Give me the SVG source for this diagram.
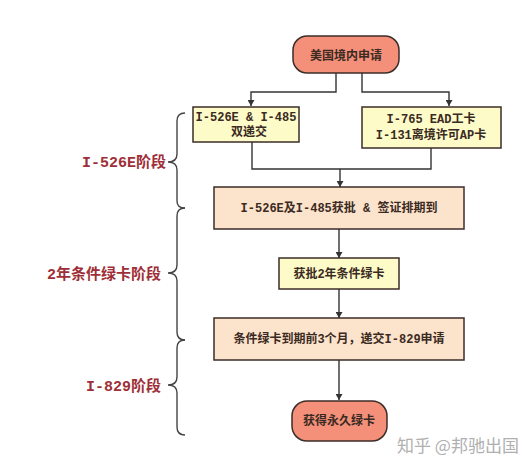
<svg xmlns="http://www.w3.org/2000/svg" width="526" height="467" viewBox="0 0 526 467">
<defs>
<style>
.node{stroke:#3b2d28;stroke-width:1.5}
.term{fill:#F4907A}
.yel{fill:#FDFBC8}
.peach{fill:#FCE3CB}
.t{font-family:"Liberation Mono","Noto Sans CJK SC",monospace;font-size:12px;fill:#3a2a22;text-anchor:middle;font-weight:bold}
.lbl{font-family:"Liberation Mono","Noto Sans CJK SC",monospace;font-size:15px;fill:#9e2f38;text-anchor:end;font-weight:bold}
.c{fill:none;stroke:#333;stroke-width:1.4}
.brace{fill:none;stroke:#444;stroke-width:1.4}
</style>
<marker id="ah" viewBox="0 0 10 10" refX="10" refY="5" markerWidth="6" markerHeight="7" markerUnits="userSpaceOnUse" orient="auto" preserveAspectRatio="none">
<path d="M0,0 L10,5 L0,10 Z" fill="#333"/>
</marker>
</defs>
<rect width="526" height="467" fill="#fff"/>
<g id="connectors">
<path class="c" d="M336,73 V92 H251 V106" marker-end="url(#ah)"/>
<path class="c" d="M362,73 V92 H449 V106" marker-end="url(#ah)"/>
<path class="c" d="M252,142 V169 H431 V148"/>
<path class="c" d="M340,169 V187" marker-end="url(#ah)"/>
<path class="c" d="M339,229 V258" marker-end="url(#ah)"/>
<path class="c" d="M339,289 V318" marker-end="url(#ah)"/>
<path class="c" d="M339,360 V400" marker-end="url(#ah)"/>
</g>
<g id="n1"><rect class="node term" x="293" y="36" width="106" height="37" rx="14"/><text class="t" x="346" y="60">美国境内申请</text></g>
<g id="n2"><rect class="node yel" x="193" y="107" width="106" height="35"/><text class="t" x="246" y="121">I-526E &amp; I-485</text><text class="t" x="249" y="136">双递交</text></g>
<g id="n3"><rect class="node yel" x="362" y="107" width="139" height="41"/><text class="t" x="431" y="123">I-765 EAD工卡</text><text class="t" x="431" y="139">I-131离境许可AP卡</text></g>
<g id="n4"><rect class="node peach" x="214" y="187" width="250" height="42"/><text class="t" x="339" y="212">I-526E及I-485获批 &amp; 签证排期到</text></g>
<g id="n5"><rect class="node yel" x="279" y="258" width="120" height="31"/><text class="t" x="339" y="278">获批2年条件绿卡</text></g>
<g id="n6"><rect class="node peach" x="214" y="318" width="250" height="42"/><text class="t" x="339" y="343">条件绿卡到期前3个月，递交I-829申请</text></g>
<g id="n7"><rect class="node term" x="292" y="401" width="95" height="40" rx="15"/><text class="t" x="339" y="425">获得永久绿卡</text></g>
<g id="braces">
<path class="brace" d="M185,113 Q177,113 177,121 V154 Q177,162 168,162 Q177,162 177,170 V201 Q177,208 185,208"/>
<path class="brace" d="M185,208 Q177,208 177,216 V265 Q177,273 168,273 Q177,273 177,281 V332 Q177,340 185,340"/>
<path class="brace" d="M185,340 Q177,340 177,348 V377 Q177,385 168,385 Q177,385 177,393 V427 Q177,435 185,435"/>
</g>
<g id="labels">
<text class="lbl" x="166" y="167">I-526E阶段</text>
<text class="lbl" x="161" y="279">2年条件绿卡阶段</text>
<text class="lbl" x="161" y="391">I-829阶段</text>
</g>
<text x="397" y="452" font-family="'Noto Sans CJK SC',sans-serif" font-size="17" fill="#b0b0b0">知乎 @邦驰出国</text>
</svg>
